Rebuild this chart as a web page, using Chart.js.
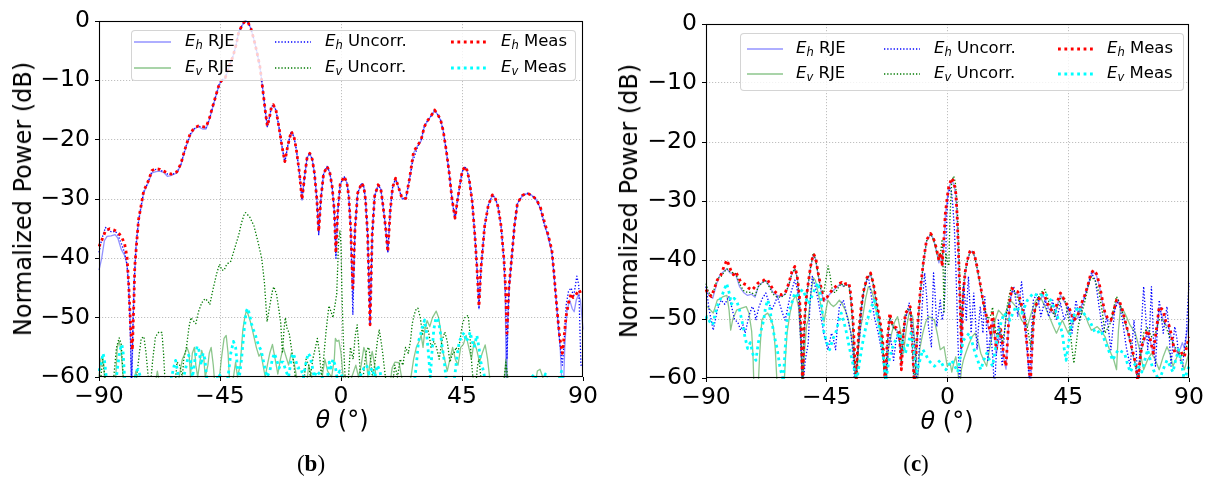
<!DOCTYPE html>
<html><head><meta charset="utf-8">
<script src="https://cdn.jsdelivr.net/npm/chart.js@4.4.1/dist/chart.umd.min.js"></script>
<style>
body{margin:0;background:#fff;width:1209px;height:485px;overflow:hidden;position:relative;font-family:"DejaVu Sans",sans-serif;color:#000;}
.panel{position:absolute;top:0;height:485px;}
.legend{position:absolute;background:rgba(255,255,255,0.8);border:1px solid rgba(204,204,204,0.85);border-radius:4px;box-sizing:border-box;z-index:5;}
.lt{position:absolute;font-size:16.5px;line-height:18px;white-space:nowrap;}
.lt sub{font-size:11.5px;font-style:italic;vertical-align:-3px;line-height:0;}
.ls{position:absolute;}
.ytitle{position:absolute;font-size:24px;white-space:nowrap;transform:translate(-50%,-50%) rotate(-90deg);z-index:6;}
.xtitle{position:absolute;font-size:24px;white-space:nowrap;transform:translate(-50%,-50%);z-index:6;}
.cap{position:absolute;font-family:"Liberation Serif","DejaVu Serif",serif;font-size:23px;white-space:nowrap;transform:translate(-50%,-50%);}
</style></head>
<body>
<div class="panel" style="left:0;width:600px;"><canvas id="cb" width="600" height="485"></canvas></div>
<div class="panel" style="left:600px;width:609px;"><canvas id="cc" width="609" height="485"></canvas></div>
<div class="ytitle" style="left:23px;top:199px;">Normalized Power (dB)</div>
<div class="ytitle" style="left:629px;top:201px;">Normalized Power (dB)</div>
<div class="xtitle" style="left:342px;top:420px;"><i>θ</i> (°)</div>
<div class="xtitle" style="left:947px;top:421px;"><i>θ</i> (°)</div>
<div class="cap" style="left:311px;top:464px;">(<b>b</b>)</div>
<div class="cap" style="left:916px;top:464px;">(<b>c</b>)</div>
<script>
// ---------- tick labels ----------
const xTickValues = [-90, -45, 0, 45, 90];
const xTickLabels = ['\u221290', '\u221245', '0', '45', '90'];
const yTickValues = [-60, -50, -40, -30, -20, -10, 0];
const yTickLabels = ['\u221260', '\u221250', '\u221240', '\u221230', '\u221220', '\u221210', '0'];
const seriesSub = ['h', 'v', 'h', 'v', 'h', 'v'];
const seriesName = ['RJE', 'RJE', 'Uncorr.', 'Uncorr.', 'Meas', 'Meas'];

// ---------- panel (b) : [theta (deg), power (dB)] ----------
const b_EhRJE = [[-90,-42],[-89,-40],[-88,-37],[-87,-36.3],[-85.5,-36.2],[-84,-36],[-83,-36.6],[-81.7,-38.5],[-80.5,-39.5],[-79.6,-41],[-79,-44],[-78.4,-50],[-77.9,-65],[-77.4,-52],[-76.9,-44],[-76.2,-38],[-75.3,-33.8],[-73.4,-29],[-71.7,-27.2],[-70.3,-25.6],[-68.8,-25.4],[-67.4,-25.3],[-66,-25.5],[-64.5,-26.2],[-63,-26],[-61,-25.6],[-59.5,-24.2],[-58.8,-23],[-57.5,-21],[-56,-19.2],[-54.5,-18.2],[-53.1,-17.8],[-51.5,-18.2],[-50.2,-18.2],[-49,-16.7],[-48.1,-15.2],[-46.5,-12.6],[-45.2,-10.6],[-44,-9.9],[-43.1,-9.7],[-41.5,-7.6],[-40.2,-6],[-39,-4],[-38.1,-2],[-37,-0.9],[-36,-0.2],[-35.3,0],[-34.5,-0.3],[-33.5,-1.3],[-32.4,-3.1],[-31.3,-5.2],[-30.2,-7.6],[-29.5,-10],[-28.8,-12.7],[-28,-15.8],[-27.4,-17.8],[-26.7,-16.5],[-25.9,-14.6],[-25.2,-14.2],[-24.2,-15],[-23.1,-17.9],[-22,-21],[-20.9,-23.8],[-19.8,-21],[-18.5,-18.7],[-17.5,-19.5],[-16.6,-21.8],[-15.5,-25.5],[-14.5,-30.2],[-13.5,-26],[-12.6,-23],[-11.6,-22.4],[-10.7,-23.3],[-9.9,-25.6],[-9,-30],[-8.3,-35.8],[-7.5,-30],[-6.5,-25.8],[-5.2,-24.6],[-4.2,-25.5],[-3.3,-28],[-2.5,-32],[-1.9,-39.5],[-1.2,-32],[-0.3,-27.5],[1.2,-26.3],[2.2,-27.3],[2.9,-29.7],[3.6,-35],[4.4,-47],[5.2,-35],[6.2,-29],[7.7,-27.4],[8.5,-28],[9.1,-30.2],[9.9,-36],[10.8,-51],[11.6,-36],[12.5,-29.5],[13.8,-27.7],[14.8,-28.3],[15.5,-30.8],[16.5,-34.5],[17.4,-39],[18.3,-32],[19.2,-28],[20.3,-26.6],[21.5,-28.3],[22.7,-30],[24.1,-30],[25.5,-26.5],[27,-22.2],[28.5,-21],[29.8,-20.2],[31,-17.8],[32,-17],[33.5,-16],[34.8,-15.1],[36,-15.8],[37,-16.7],[38,-18.5],[39.1,-21.8],[40.2,-25.5],[41.3,-30.2],[42.4,-33.4],[43.2,-30.5],[44.1,-28],[45,-25.5],[46,-24.6],[46.9,-25.2],[47.7,-26.9],[48.8,-30.5],[49.9,-37],[50.6,-42],[51.3,-48.5],[52,-42],[53.4,-34.7],[54.8,-31],[56.3,-29.4],[57.3,-29.8],[58.4,-31.4],[59.5,-34.5],[60.6,-40.5],[61.1,-47],[61.5,-65],[62,-50],[62.6,-44],[63.4,-40.3],[64.5,-34.5],[65.6,-30.8],[67.4,-29.5],[69.2,-29.1],[71,-29.4],[72.7,-30.2],[74.2,-31.6],[75.6,-34],[77,-36.5],[78.4,-39],[79.1,-42.5],[79.8,-46],[80.6,-50.5],[81.5,-55],[82.5,-65],[83.2,-55],[84,-49],[85,-47],[86,-48.5],[86.7,-49],[87.5,-47],[88.3,-46.2],[89,-47],[89.6,-50],[90,-52]];
const b_EvRJE = [[-90,-60],[-89.3,-57],[-88.8,-56.5],[-88.2,-58],[-87.5,-65],[-84,-62],[-83.2,-55],[-82.5,-54],[-81.8,-55.5],[-81,-60],[-80.3,-63],[-78,-65],[-77,-61],[-76.3,-59],[-75.5,-62],[-70,-63],[-69,-61],[-68.3,-59],[-67.5,-61],[-61,-62],[-59,-57],[-58,-56],[-57.3,-55],[-56.5,-56],[-56,-60],[-55.3,-56],[-54.5,-55],[-54,-58],[-53.3,-60],[-52.5,-57.5],[-51.8,-55.5],[-51,-57],[-50.5,-60],[-49.5,-58],[-49,-56],[-48.3,-55],[-47.5,-58],[-46.8,-62],[-45.2,-60],[-44.5,-57],[-43.5,-53.5],[-42.7,-53],[-42,-56],[-41.3,-62],[-40,-60],[-39.2,-57.5],[-38.5,-60],[-37.5,-58],[-36.5,-52],[-35.8,-50],[-35.2,-48.8],[-34.5,-49.5],[-33.5,-51],[-32.5,-53],[-31.5,-55],[-30.5,-56.5],[-29.8,-56],[-29,-58],[-28.2,-60],[-27.4,-58],[-26.5,-56],[-25.5,-54.5],[-24.5,-57],[-23.5,-59.5],[-22.5,-57],[-21.5,-55],[-20.5,-56.5],[-19.5,-58],[-18.5,-56],[-17.5,-57.5],[-16.5,-60],[-15.5,-62],[-13,-62],[-12,-58],[-11,-60],[-9,-62],[-7,-60],[-6,-57],[-5,-59],[-3.5,-60],[-2.5,-57],[-2.1,-53.5],[-1.5,-54],[-0.8,-53.8],[0,-56],[0.8,-60],[2,-62],[4,-60],[5.5,-58],[6.5,-60],[7.5,-58],[8.5,-55],[9.2,-56],[10,-60],[11,-57],[11.6,-55.7],[12.5,-58],[13,-60],[14.5,-62],[18,-62],[19,-58.5],[20,-57.5],[21.6,-57.6],[22.5,-60],[24,-62],[26,-60],[27,-57],[28,-55],[29,-54],[29.8,-53],[30.5,-55],[31.2,-52],[32,-50.5],[33,-51.5],[34,-50],[35.4,-48.9],[36.3,-50],[37,-52],[37.5,-55],[38.5,-57],[39.5,-59],[40.5,-57],[41.5,-55],[42.5,-57],[43.5,-58],[44.5,-55],[45.5,-54.5],[46.5,-53],[47.5,-55],[48.5,-57],[49.5,-54],[50.5,-55.5],[51.5,-57.5],[52.5,-56],[53.6,-54.6],[54.5,-57],[55.5,-61],[58,-63],[60.5,-62],[61.3,-57],[62,-62],[64,-64],[72,-62],[73,-59],[74,-58.7],[75,-60],[76,-62],[80,-62],[81,-60],[82,-62],[90,-63]];
const b_EhUncorr = [[-90,-39],[-89,-36.8],[-87.6,-34.8],[-86.5,-35.3],[-85,-35.6],[-84,-35.4],[-83,-36],[-81.7,-37.5],[-80.5,-39],[-79.6,-41],[-79,-45],[-78.4,-52],[-77.9,-60.5],[-77.4,-52],[-76.9,-44],[-76.2,-37.5],[-75.3,-33.6],[-73.4,-28.8],[-71.7,-27.1],[-70.3,-25.3],[-68.8,-25],[-67.4,-25.1],[-66,-25.4],[-64.5,-25.8],[-63,-25.9],[-61,-25.5],[-59.5,-24.1],[-58.8,-22.9],[-57.5,-20.9],[-56,-19],[-54.5,-18.1],[-53.1,-17.7],[-51.5,-17.9],[-50.2,-18],[-49,-16.6],[-48.1,-15.1],[-46.5,-12.5],[-45.2,-10.5],[-44,-9.8],[-43.1,-9.6],[-41.5,-7.5],[-40.2,-6],[-39,-4],[-38.1,-2],[-37,-0.9],[-36,-0.2],[-35.3,0],[-34.5,-0.3],[-33.5,-1.3],[-32.4,-3.1],[-31.3,-5.2],[-30.2,-7.6],[-29.5,-10],[-28.8,-12.7],[-28,-15.8],[-27.4,-17.8],[-26.7,-16.5],[-25.9,-14.5],[-25.2,-14.1],[-24.2,-15],[-23.1,-17.8],[-22,-21],[-20.9,-23.8],[-19.8,-21],[-18.5,-18.6],[-17.5,-19.5],[-16.6,-21.7],[-15.5,-25.5],[-14.5,-30.2],[-13.5,-26],[-12.6,-23],[-11.6,-22.3],[-10.7,-23.3],[-9.9,-25.6],[-9,-30],[-8.3,-36],[-7.5,-30],[-6.5,-25.8],[-5.2,-24.5],[-4.2,-25.5],[-3.3,-27.9],[-2.5,-32],[-1.9,-40],[-1.2,-32],[-0.3,-27.5],[1.2,-26.2],[2.2,-27.3],[2.9,-29.6],[3.6,-35],[4.4,-49.5],[5.2,-35],[6.2,-29],[7.7,-27.3],[8.5,-28],[9.1,-30.1],[9.9,-36],[10.8,-51.2],[11.6,-36],[12.5,-29.5],[13.8,-27.6],[14.8,-28.3],[15.5,-30.7],[16.5,-34.5],[17.4,-39],[18.3,-32],[19.2,-28],[20.3,-26.5],[21.5,-28.2],[22.7,-29.9],[24.1,-29.9],[25.5,-26.8],[26.5,-24],[27.3,-22.8],[28.5,-21.2],[29.8,-20],[31,-17.6],[32,-16.9],[33.5,-16],[34.8,-15],[36,-15.8],[37,-16.6],[38,-18.5],[39.1,-21.7],[40.2,-25.5],[41.3,-30.1],[42.4,-33.5],[43.2,-30.5],[44.1,-27.9],[45,-25.5],[46,-24.5],[46.9,-25.2],[47.7,-26.8],[48.8,-30.5],[49.9,-36.9],[50.6,-42],[51.3,-48.5],[52,-42],[53.4,-34.6],[54.8,-31],[56.3,-29.3],[57.3,-29.8],[58.4,-31.3],[59.5,-34.5],[60.6,-40.3],[61.2,-46],[61.7,-57],[62.4,-46],[63.4,-40.3],[64.5,-34.5],[65.6,-30.7],[67.4,-29.4],[69.2,-29],[71,-29.4],[72.7,-30.1],[74.2,-31.8],[75.6,-34.5],[77,-36],[78.4,-39],[79.1,-42],[79.8,-46],[80.6,-50],[81.3,-54],[82.3,-58],[83,-54],[83.7,-48],[84.6,-45.5],[85.6,-45],[86.5,-46.5],[87.7,-43],[88.4,-44.5],[89.2,-58],[90,-58]];
const b_EvUncorr = [[-90,-62],[-89.3,-60],[-88.6,-57],[-87.8,-60],[-86.5,-65],[-84.5,-60],[-83.5,-55],[-82.5,-53.4],[-81.7,-54.5],[-81,-60],[-80,-65],[-77,-65],[-76,-60],[-75,-56],[-74.3,-53.5],[-73.3,-53.2],[-72.5,-56],[-71.7,-60],[-71,-62],[-70,-57],[-69,-53.2],[-67.7,-52.4],[-66.6,-52.5],[-66,-56],[-65.3,-62],[-64,-65],[-61.8,-62],[-61,-57.5],[-60,-58],[-59,-60],[-58.5,-57],[-57.5,-55],[-56.5,-51.5],[-55.8,-50],[-55,-50.5],[-54,-51],[-53,-49],[-51.8,-47.5],[-50.6,-46.8],[-49.5,-47.2],[-48.8,-47.8],[-47.5,-45],[-46.2,-42.5],[-45.2,-41],[-44.3,-42],[-43.5,-42],[-42.5,-41],[-41,-40.5],[-40,-39],[-39,-37.5],[-38,-36],[-37,-34],[-36,-32.6],[-35.5,-32.3],[-34,-33],[-32.4,-34.5],[-31,-37],[-29.5,-40],[-28.5,-44],[-27.5,-50.7],[-26.5,-48],[-25.5,-45.5],[-25,-44.8],[-24,-46],[-23,-49],[-22.4,-51],[-21.8,-56],[-21.2,-52],[-20.7,-50],[-20,-52],[-19.3,-52.5],[-18.5,-55],[-17.8,-57],[-17,-60],[-16,-65],[-14,-62],[-13,-57],[-12,-58],[-11.4,-60],[-10.5,-57],[-9.5,-55],[-8.8,-53.5],[-8,-56],[-7.3,-60],[-6.5,-57],[-5.5,-52],[-4.5,-48],[-3.7,-49],[-3,-50],[-2.3,-48],[-1.6,-46],[-1.2,-41],[-0.9,-37],[-0.4,-35.3],[0,-38],[0.3,-45],[0.8,-53],[1.5,-60],[2.5,-62],[3.5,-55],[4.5,-57],[5.3,-53],[6,-51.2],[6.6,-55],[7.2,-60],[7.8,-62],[8.7,-58],[9.5,-55.5],[10.3,-55],[11,-57],[11.7,-60],[12.5,-58],[13.5,-54],[14.2,-52],[14.9,-54],[15.5,-56],[16.5,-60],[17.5,-63],[19,-62],[20,-58],[21,-60],[22,-57],[23,-58],[24,-55],[25,-56],[25.8,-54],[26.5,-51],[27.2,-49.5],[28,-48.5],[28.6,-48.4],[29.5,-50],[30.3,-53],[31,-51],[31.8,-51.5],[32.6,-52.5],[33.5,-55],[34.5,-54],[35.5,-55],[36.5,-57],[37.5,-54],[38.6,-52.4],[39.5,-54],[40.5,-57.5],[41.5,-56],[42,-56],[42.8,-55],[43.5,-56],[44.5,-53],[45.2,-51],[46,-50],[47.3,-49.6],[47.8,-52],[48.3,-56],[49,-60],[50,-62],[50.8,-58],[51.3,-57],[52,-60],[53,-63],[58,-63],[60.5,-61],[61.3,-57.5],[62,-60],[63,-64],[90,-65]];
const b_EhMeas = [[-90,-38],[-89,-37],[-87.5,-35.3],[-86,-35],[-84.5,-35.2],[-83,-35.6],[-81.7,-36.3],[-80.5,-37.5],[-79.6,-39.7],[-79,-44],[-78.2,-52],[-77.6,-55.5],[-77,-47],[-76.7,-41.4],[-75.3,-33.5],[-73.4,-28.7],[-71.7,-27],[-70.3,-25.2],[-68.8,-24.9],[-67.4,-25],[-66,-25.3],[-64.5,-25.6],[-63,-25.8],[-61,-25.4],[-59.5,-24],[-58.8,-22.8],[-57.5,-20.8],[-56,-18.9],[-54.5,-18],[-53.1,-17.7],[-51.5,-17.8],[-50.2,-17.9],[-49,-16.5],[-48.1,-15],[-46.5,-12.5],[-45.2,-10.5],[-44,-9.8],[-43.1,-9.6],[-41.5,-7.5],[-40.2,-6],[-39,-4],[-38.1,-2],[-37,-0.9],[-36,-0.2],[-35.3,0],[-34.5,-0.3],[-33.5,-1.3],[-32.4,-3.1],[-31.3,-5.2],[-30.2,-7.6],[-29.5,-10],[-28.8,-12.7],[-28,-15.8],[-27.4,-17.7],[-26.7,-16.5],[-25.9,-14.5],[-25.2,-14.1],[-24.2,-15],[-23.1,-17.8],[-22,-21],[-20.9,-23.7],[-19.8,-21],[-18.5,-18.6],[-17.5,-19.5],[-16.6,-21.7],[-15.5,-25.5],[-14.5,-30.1],[-13.5,-26],[-12.6,-23],[-11.6,-22.3],[-10.7,-23.3],[-9.9,-25.6],[-9,-30],[-8.3,-35.5],[-7.5,-30],[-6.5,-25.8],[-5.2,-24.5],[-4.2,-25.5],[-3.3,-27.9],[-2.5,-32],[-1.9,-39.1],[-1.2,-32],[-0.3,-27.5],[1.2,-26.2],[2.2,-27.3],[2.9,-29.6],[3.6,-35],[4.4,-45],[5.2,-35],[6.2,-29],[7.7,-27.3],[8.5,-28],[9.1,-30.1],[9.9,-36],[10.8,-51.2],[11.6,-36],[12.5,-29.5],[13.8,-27.6],[14.8,-28.3],[15.5,-30.7],[16.5,-34.5],[17.4,-38.9],[18.3,-32],[19.2,-28],[20.3,-26.5],[21.5,-28.2],[22.7,-29.9],[24.1,-29.9],[25.5,-26.5],[27,-22],[28.5,-21],[29.8,-20],[31,-17.8],[32,-16.9],[33.5,-16],[34.8,-15],[36,-15.8],[37,-16.6],[38,-18.5],[39.1,-21.7],[40.2,-25.5],[41.3,-30.1],[42.4,-33.2],[43.2,-30.5],[44.1,-27.9],[45,-25.5],[46,-24.5],[46.9,-25.2],[47.7,-26.8],[48.8,-30.5],[49.9,-36.9],[50.6,-42],[51.3,-48.1],[52,-42],[53.4,-34.6],[54.8,-31],[56.3,-29.3],[57.3,-29.8],[58.4,-31.3],[59.5,-34.5],[60.6,-40.3],[61.2,-45],[61.7,-52.6],[62.4,-45],[63.4,-40.3],[64.5,-34.5],[65.6,-30.7],[67.4,-29.4],[69.2,-29],[71,-29.4],[72.7,-30.1],[74.2,-31.5],[75.6,-33.8],[77,-36],[78.4,-38.6],[79.1,-42],[79.8,-45.9],[80.6,-50],[81.3,-53.2],[82.3,-56],[83,-53],[83.7,-49.8],[84.6,-47.5],[85.6,-45.9],[86.3,-46.6],[87,-46.4],[88.5,-45.3],[89.3,-46],[90,-45.9]];
const b_EvMeas = [[-90,-59],[-89.3,-58],[-88.5,-56],[-88,-57],[-87.3,-60],[-86.5,-63],[-84,-62],[-83,-58],[-82.2,-55.5],[-81.5,-54.5],[-81,-56],[-80.5,-60],[-79.5,-63],[-77,-62],[-76.2,-59],[-75.4,-58.7],[-74.6,-60],[-73.5,-62],[-64,-62],[-63,-60],[-62,-58],[-61.5,-57.2],[-60.8,-59],[-60,-62],[-58.5,-60],[-57.5,-58],[-56.7,-56.3],[-56,-57],[-55.2,-60],[-54.3,-57],[-53.5,-54.8],[-52.8,-55.5],[-52,-58],[-51.3,-56],[-50.6,-57],[-50,-60],[-49,-62],[-46.5,-61],[-45.5,-59.5],[-44.5,-60],[-43.5,-62],[-42,-60],[-41,-56],[-40,-54],[-39.2,-55],[-38.5,-58.5],[-37.8,-60],[-37,-57],[-36,-52],[-35.3,-49],[-34.7,-48.4],[-34,-49.5],[-33.3,-51],[-32.6,-52],[-31.8,-53],[-31,-54.2],[-30.3,-55],[-29.7,-55.5],[-29,-57],[-28.3,-58.5],[-27.5,-60],[-26.5,-59],[-25.5,-57],[-24.8,-56],[-24,-57],[-23,-58.5],[-22.2,-57.5],[-21.5,-57.5],[-20.5,-59],[-19.5,-60],[-18.5,-57],[-17.8,-56],[-17,-57],[-16,-58.5],[-15,-58.4],[-14,-60],[-13,-57.5],[-12.2,-56],[-11.5,-56.5],[-10.8,-58],[-10,-60],[-9,-59],[-8,-59.5],[-7,-60],[-6,-62],[-5,-60],[-4.4,-57.5],[-3.8,-58.5],[-3,-57],[-2.2,-58],[-1.5,-60],[-0.5,-59],[0.5,-60],[1.5,-62],[5,-62],[7,-60],[8.5,-58.5],[9.5,-58],[10.5,-59.5],[11.5,-58.5],[12.5,-60],[13.5,-58],[14.5,-59],[15.5,-62],[27,-62],[28,-58],[28.8,-54],[29.5,-53],[30.3,-51.5],[31.1,-50.4],[31.8,-52.5],[32.5,-56],[33.2,-60],[33.8,-56],[34.5,-52],[35.3,-50],[36,-50.3],[36.8,-52],[37.5,-54.5],[38.3,-57],[39,-60],[40,-62],[42,-61],[43,-57],[44,-54],[45,-53],[45.8,-52.5],[46.5,-54],[47.3,-53.5],[48,-52.4],[48.8,-54],[49.5,-55],[50.5,-53],[51.3,-55],[52,-57.5],[53,-59],[54,-62],[70,-62],[71,-60],[72,-59.5],[73,-61],[75,-61],[76,-59.5],[77,-61],[80,-62],[81.5,-60],[82,-59],[83,-62],[90,-63]];

// ---------- panel (c) : [theta (deg), power (dB)] ----------
const c_EhRJE = [[-90,-44.5],[-89,-46],[-87.5,-46.5],[-86,-44],[-84.8,-42.5],[-83.5,-42],[-82.2,-41.5],[-81,-42.2],[-79.8,-42.3],[-78.9,-42.5],[-77.5,-44.5],[-76,-45.5],[-74.5,-46],[-73,-45.8],[-71.7,-46.3],[-70.5,-44.5],[-69,-43.8],[-67.8,-43.5],[-66.5,-44.3],[-65,-45.5],[-63.5,-46],[-62,-46.2],[-60.5,-45.8],[-59.1,-44.2],[-58,-42.3],[-56.9,-41.5],[-56,-43],[-55.2,-46.5],[-54.5,-53],[-54,-62],[-53.5,-53],[-52.8,-47.5],[-51.9,-44],[-51,-41.2],[-50,-39.2],[-49.2,-39.8],[-48.2,-42.5],[-47.2,-45],[-46.1,-47],[-45,-46.5],[-43.9,-45.8],[-42.8,-45.3],[-41.7,-44.8],[-40.5,-44.3],[-39.5,-44],[-38.8,-44.5],[-37.8,-44.2],[-36.7,-44.2],[-36,-46.5],[-35.2,-51],[-34.6,-57],[-34.1,-62],[-33.6,-57],[-33.1,-52.5],[-32.2,-48.3],[-31.2,-45.3],[-30,-43.2],[-28.7,-42.5],[-27.6,-44.2],[-26.6,-47],[-25.5,-49.8],[-24.4,-52.8],[-23.8,-56.5],[-23.2,-62],[-22.5,-54.5],[-21.5,-49.5],[-20.8,-50.8],[-20.1,-51.5],[-19,-51.8],[-17.9,-53],[-17.2,-58],[-16.5,-53],[-15.7,-49.5],[-14.8,-48.8],[-13.9,-48.2],[-13.2,-53.5],[-12.4,-62],[-11.6,-55.5],[-10.8,-49.5],[-10,-45],[-8.9,-40.2],[-7.8,-36.8],[-6.3,-35.6],[-5.5,-36.2],[-4.6,-37.5],[-3.9,-39],[-3.2,-40.5],[-2.8,-39.5],[-2.4,-39.2],[-2,-41],[-1.4,-37.5],[-0.8,-32.5],[0,-29.3],[0.5,-27.8],[1.6,-26.5],[2.4,-27.2],[3.1,-29],[3.6,-33],[4.1,-39.5],[4.6,-47],[5.2,-56],[5.9,-46],[6.6,-42.2],[7.4,-40.2],[8.3,-38.8],[9.3,-38.5],[10.1,-39.4],[11,-41.3],[12,-43.8],[13.2,-47],[13.9,-48.8],[14.6,-50],[15.3,-51.5],[16.1,-53],[16.8,-50],[17.5,-52.5],[18.2,-56],[19,-53.5],[19.7,-51.8],[20.4,-54.5],[21.1,-57],[21.8,-58.5],[22.6,-52.5],[23.2,-47.5],[24,-45.2],[25.1,-45.5],[26.2,-45.8],[27.3,-47.3],[28.3,-49.3],[29.1,-52.5],[29.8,-56],[30.4,-59],[30.9,-62],[31.5,-56],[32.1,-50.5],[32.7,-48.2],[34.2,-47],[35.6,-46],[36.6,-46.8],[37.7,-48.2],[38.8,-48.8],[39.9,-49.2],[41,-47.5],[42.1,-46],[43.2,-46.8],[44.2,-47.6],[45.7,-48.8],[47.1,-50.4],[48.5,-49.8],[50,-47.6],[51.1,-46.3],[52.2,-44.8],[53.3,-42.8],[54.4,-42],[55.5,-42.6],[56.5,-44.2],[57.6,-46.8],[58.7,-49.3],[59.8,-50.3],[60.9,-50.5],[62,-48.8],[63,-47],[64.1,-47.3],[65.2,-48.8],[66.3,-50.8],[67.4,-52.7],[68.5,-54.8],[69.5,-56.8],[70.3,-58.5],[71,-62],[71.7,-57.5],[72.4,-55],[73.5,-53.3],[74.6,-52.2],[75.6,-53.8],[76.7,-56],[77.8,-52.3],[78.9,-48.5],[79.6,-49],[80.3,-50],[81.4,-51],[82.5,-51.5],[83.6,-53.5],[84.7,-55],[85.8,-55.8],[86.8,-55],[87.5,-54],[88.3,-55],[89,-53],[90,-50]];
const c_EvRJE = [[-90,-48],[-89.4,-47.9],[-88.3,-48.5],[-87.3,-49],[-85.8,-46.8],[-84.5,-46.5],[-83.6,-46.2],[-82.2,-46],[-81.4,-48.5],[-80.8,-51.9],[-80,-50],[-78.6,-48.5],[-77,-48.2],[-75,-47.9],[-74,-49],[-73,-52],[-72.5,-56],[-72.1,-62],[-70.6,-62],[-70,-56],[-69.2,-50.2],[-68,-49.3],[-67,-49],[-66,-49.8],[-64.9,-51.3],[-64.2,-55],[-63.4,-62],[-61,-62],[-60.3,-56],[-59.8,-52.4],[-58.7,-49],[-57.6,-46.8],[-56.5,-46],[-55.5,-48],[-54.8,-53],[-54,-62],[-53.2,-55],[-52.5,-51],[-51.9,-50.2],[-51,-46],[-50,-43],[-49.2,-43.5],[-48.2,-45.6],[-47,-48],[-46,-50.5],[-45.3,-48.5],[-44.6,-46.8],[-43.5,-47.5],[-42.5,-47.9],[-41.5,-47.5],[-40.3,-46.8],[-39.2,-47.5],[-38.1,-48.5],[-37,-50],[-36,-52.4],[-35,-56],[-34.1,-62],[-33.2,-55],[-32.4,-51.5],[-31.6,-49.6],[-30.5,-46.5],[-29.5,-44.5],[-28.4,-45],[-27.3,-46.8],[-26.2,-49.5],[-25.1,-52.4],[-24,-56],[-23,-62],[-22,-55],[-20.8,-52.4],[-19.7,-50.5],[-18.6,-49.6],[-17.5,-52],[-16.4,-55.8],[-15.3,-51.5],[-14.3,-49],[-13,-49.5],[-12.2,-54],[-11.4,-62],[-10.3,-55],[-9.2,-52.4],[-8.1,-50.5],[-7.1,-49.6],[-6,-49.8],[-4.9,-50.2],[-3.8,-52.5],[-2.7,-55.2],[-1.3,-54.7],[-0.1,-58],[1,-57.5],[1.6,-59],[2.3,-57.5],[3.1,-56.4],[3.8,-58.5],[4.5,-62],[5.2,-58.5],[5.9,-57],[7,-55.5],[8.1,-54.1],[9.2,-53],[10.3,-52.4],[11.4,-53.8],[12.4,-55.8],[13.5,-57],[14.6,-58],[15.7,-55],[16.8,-52.4],[17.9,-50],[19,-48.5],[20,-49],[21.1,-49.6],[22.2,-48.2],[23.3,-46.8],[24.4,-47.3],[25.5,-47.9],[26.6,-49],[27.6,-50.2],[28.7,-50.8],[29.8,-51.3],[30.9,-49.5],[32,-47.9],[33,-46.8],[34.1,-46.2],[35.2,-46.8],[36.3,-47.9],[37.4,-49],[38.5,-50.2],[39.5,-51.3],[40.6,-52.4],[41.7,-51.3],[42.8,-50.2],[43.9,-51.3],[45,-52.4],[46,-51.3],[47.1,-50.2],[48.2,-49.3],[49.3,-48.5],[50.4,-49],[51.5,-49.6],[52.5,-50.8],[53.6,-51.9],[54.7,-51.6],[55.8,-51.3],[57.2,-52],[58.7,-53],[59.8,-54.5],[60.9,-55.8],[62,-57],[63,-58.6],[63.7,-52],[64.5,-48],[65.5,-48.5],[66.6,-49.5],[68,-51],[70,-52.4],[71.5,-55],[73.1,-58.6],[74.5,-57],[76,-55.8],[77.5,-57],[78.9,-58.6],[80.3,-56.5],[81.8,-54.7],[83,-56],[84,-58],[85,-57],[86.1,-55.8],[87.2,-57],[88.3,-58.6],[89.2,-57],[90,-55.8]];
const c_EhUncorr = [[-90,-44.5],[-88.8,-48.5],[-87.3,-51.9],[-85.8,-48.5],[-84.4,-46.8],[-83,-47.5],[-81.5,-46.2],[-80.4,-48],[-79.3,-50.2],[-78.2,-50.5],[-77.1,-51.9],[-76.2,-51],[-75.4,-52.4],[-74,-49.5],[-72.8,-47.9],[-72,-48.5],[-71.4,-50.2],[-70.3,-48],[-69,-46.5],[-67.7,-45.6],[-66.7,-47],[-65.6,-48.5],[-64.5,-47.5],[-63.4,-46.2],[-62.5,-47.5],[-61.5,-49],[-60.5,-50.2],[-59.5,-48],[-58.4,-45.6],[-56.9,-43.4],[-56.2,-44.5],[-55.5,-46.8],[-54.8,-53],[-54,-62],[-53,-57],[-51.9,-54.1],[-51.2,-47],[-50.4,-42.8],[-49.3,-44.5],[-48.2,-46.8],[-47.2,-49.5],[-46.1,-52.4],[-44.6,-55.2],[-43.2,-52.4],[-42.5,-53.5],[-41.7,-55.2],[-41,-51],[-40.3,-47.9],[-38.8,-46.8],[-37.4,-49.6],[-36,-52.4],[-35.2,-56],[-34.5,-62],[-33.5,-56],[-32.6,-52.4],[-31.9,-48],[-31.2,-45.1],[-29.5,-42.8],[-28.4,-46],[-27.3,-49.6],[-25.8,-52.4],[-24.4,-55.8],[-23.7,-58],[-23,-62],[-22.2,-56],[-21.5,-52.4],[-20.8,-54.5],[-20.1,-57],[-19.3,-54],[-18.6,-52.4],[-17.9,-54],[-17.2,-55.8],[-16.4,-53],[-15.7,-50.2],[-14.3,-47.3],[-13.5,-49.5],[-12.8,-51.9],[-12.1,-55],[-11.4,-62],[-10.7,-56],[-10,-52.4],[-9.2,-46],[-8.5,-42.2],[-7.8,-46],[-7.1,-51.3],[-6,-54.7],[-5.6,-48],[-5.2,-42.2],[-4.6,-46],[-4,-51.3],[-3.3,-49],[-2.7,-46.8],[-2,-50.2],[-1.5,-49],[-1.1,-46.8],[-0.7,-40],[-0.3,-32.6],[0.3,-29],[0.9,-27.8],[1.5,-28.5],[2,-30.9],[2.6,-35],[3.1,-41.1],[3.5,-47],[3.8,-52.4],[4.5,-62],[5.2,-52.4],[5.9,-43.9],[6.5,-46.5],[7,-50.2],[7.4,-46],[7.8,-42.8],[8.3,-47],[8.8,-52.4],[9.3,-49],[9.8,-45.6],[10.4,-50],[11,-55.2],[11.6,-51],[12.2,-47.9],[12.7,-50],[13.2,-52.4],[13.9,-46.2],[14.5,-51],[15,-57],[15.6,-54],[16.1,-52.4],[16.8,-56],[17.5,-62],[18.3,-55],[19,-50.2],[19.7,-54],[20.4,-58],[21.1,-53],[21.8,-49.6],[23.3,-46.8],[24.7,-44.5],[25.5,-47],[26.2,-49.6],[27,-46],[27.6,-43.7],[28.3,-47],[29,-50.2],[29.8,-55],[30.5,-62],[31.3,-52],[32,-46.8],[33.4,-45.6],[34.8,-49.6],[36.3,-46.8],[37.7,-49.6],[39.2,-46.8],[40.6,-50.2],[42.1,-47.3],[43.5,-50.2],[45,-47.9],[46.4,-52.4],[47.9,-46.8],[49.3,-50.2],[50.7,-46.8],[52.2,-44.5],[53.6,-42.2],[55.1,-43.4],[56.5,-47.9],[58,-52.4],[59.4,-49.6],[60.9,-55.2],[62.3,-48.5],[63.7,-46.8],[65.2,-50.2],[66.6,-54.7],[68.1,-58],[69.5,-50.2],[70.3,-55],[71,-62],[71.7,-55],[72.4,-50.2],[73.1,-44.5],[73.8,-49],[74.6,-55.2],[75.3,-52],[76,-44.5],[76.8,-54],[77.5,-58],[78.2,-52],[78.9,-46.8],[79.6,-49],[80.4,-52.4],[81.1,-50],[81.8,-47.9],[82.5,-52],[83.3,-58],[84,-54],[84.7,-51.3],[85.4,-53],[86.1,-55.8],[86.8,-57],[87.6,-58],[88.3,-55],[89,-52.4],[89.5,-48],[90,-43.9]];
const c_EvUncorr = [[-90,-44],[-89,-45.5],[-88,-46],[-87,-45],[-85.8,-43.2],[-84.4,-42.8],[-83.2,-42],[-82.2,-41.5],[-81,-42],[-79.8,-42.2],[-78.9,-42.3],[-77.5,-44],[-76,-45.2],[-74.5,-45.5],[-73,-45.5],[-71.7,-46],[-70.5,-44.5],[-69,-43.8],[-67.8,-43.5],[-66.5,-44.5],[-65,-45.8],[-63.5,-46.3],[-62,-46.3],[-60.5,-45.8],[-59.1,-44.2],[-58,-42.3],[-56.9,-41.5],[-56,-43],[-55.2,-46.5],[-54.5,-53],[-54,-62],[-53.5,-53],[-52.8,-47.5],[-51.9,-44],[-51,-41.2],[-50,-38.8],[-49.2,-39.8],[-48.2,-42.5],[-47.2,-45],[-46.1,-45.5],[-45.2,-43],[-44.5,-41],[-43.8,-42.5],[-42.8,-45.5],[-41.7,-45.5],[-40.5,-44.5],[-39.5,-44],[-38.8,-44.5],[-37.8,-44.2],[-36.7,-44.5],[-36,-47],[-35.2,-52],[-34.6,-58],[-34.1,-62],[-33.6,-57],[-33.1,-52.5],[-32.2,-48.3],[-31.2,-45.3],[-30,-43.2],[-28.7,-42.2],[-27.6,-44.2],[-26.6,-47],[-25.5,-49.8],[-24.4,-52.8],[-23.8,-56.5],[-23.2,-62],[-22.5,-54.5],[-21.5,-49.5],[-20.8,-50.8],[-20.1,-51.5],[-19,-52],[-17.9,-53.5],[-17.2,-57],[-16.5,-52],[-15.7,-49],[-14.8,-48.5],[-13.9,-47.9],[-13.2,-53],[-12.4,-62],[-11.6,-55.5],[-10.8,-49.5],[-10,-45],[-8.9,-40.2],[-7.8,-36.8],[-6.3,-35.6],[-5.5,-36.2],[-4.6,-37.5],[-3.9,-39],[-3.2,-40],[-2.5,-38.5],[-2,-36.5],[-1.6,-42],[-1.3,-49],[-0.9,-42],[-0.6,-38.8],[-0.2,-40],[0.5,-41],[0.9,-33],[1.6,-26.5],[2.3,-25.8],[2.9,-26.8],[3.5,-29.8],[4,-35],[4.5,-41],[5,-52],[5.5,-48],[6.2,-43],[7.4,-40.2],[8.3,-38.8],[9.3,-38.5],[10.1,-39.4],[11,-41.3],[12,-43.8],[13.2,-47],[14,-48.5],[15,-50],[16,-49.5],[16.8,-48],[17.5,-51],[18.5,-53],[19.5,-51.5],[20.5,-54],[21.3,-52],[22.2,-48],[23.2,-45.5],[24,-44.5],[25.1,-45.5],[26.2,-46.5],[27.5,-48],[29,-49.6],[30,-52],[31,-54.7],[32,-50],[33.4,-46.8],[34.8,-45.5],[36.3,-45],[37.7,-47],[39,-48.5],[39.9,-49.6],[41,-48],[42.2,-46.5],[43.5,-46.2],[44.5,-48.5],[45.5,-51],[46.4,-55],[47.1,-57.5],[47.8,-55],[48.8,-51],[50,-49],[51.2,-47],[52.4,-44.5],[53.6,-42.8],[55,-43.5],[56.5,-45.6],[57.6,-48.5],[58.7,-52.4],[59.8,-51.5],[60.9,-50.5],[62,-48],[63,-46.2],[64.3,-47.5],[66,-50.2],[67.5,-52.5],[69,-55.8],[70,-57.5],[71,-61],[72,-56],[73.1,-52.4],[74.5,-51.5],[76,-53],[77.5,-52.4],[79,-50],[80.4,-50.2],[81.5,-51.5],[82.8,-53],[84.7,-54.7],[86,-55.5],[87.6,-56.4],[88.8,-55],[90,-53.6]];
const c_EhMeas = [[-90,-45],[-89.4,-45.6],[-88,-46.2],[-87,-45],[-85.8,-43.4],[-84.4,-42.5],[-83.2,-41],[-82.2,-40],[-81.5,-40.8],[-80.8,-41.7],[-79.8,-42.5],[-78.9,-42],[-78,-42.8],[-77.1,-43.7],[-76,-44],[-75,-44.2],[-74,-44.8],[-72.8,-45.1],[-71.7,-44.5],[-70.6,-43.9],[-69,-43.6],[-67.8,-43.2],[-67,-43.4],[-66,-44.2],[-64.9,-45.1],[-63.5,-45.7],[-62,-45.9],[-60.5,-45.6],[-59.1,-43.9],[-58,-42],[-56.9,-41.1],[-56,-42.8],[-55.2,-46],[-54.5,-52],[-54,-62],[-53.5,-52],[-52.8,-47],[-51.9,-43.9],[-51,-41],[-50,-39],[-49.2,-39.5],[-48.2,-42.2],[-47.2,-44.5],[-46.1,-46.8],[-45,-46.4],[-43.9,-45.6],[-42.8,-45],[-41.7,-44.5],[-40.5,-44],[-39.5,-43.8],[-38.8,-44.2],[-37.8,-44],[-36.7,-43.9],[-36,-46],[-35.2,-50.2],[-34.6,-56],[-34.1,-62],[-33.6,-56],[-33.1,-52.4],[-32.2,-48],[-31.2,-45.1],[-30,-43],[-28.7,-42.2],[-27.6,-44],[-26.6,-46.8],[-25.5,-49.5],[-24.4,-52.4],[-23.8,-56],[-23.2,-61],[-22.5,-54],[-21.5,-49],[-20.8,-50.5],[-20.1,-51.3],[-19,-51.5],[-17.9,-52.4],[-17.2,-58.6],[-16.5,-53],[-15.7,-49],[-14.8,-48.5],[-13.9,-47.9],[-13.2,-53],[-12.4,-61],[-11.6,-55],[-10.8,-49],[-10,-44.5],[-8.9,-40],[-7.8,-36.6],[-6.3,-35.5],[-5.5,-36],[-4.6,-37.2],[-3.9,-38.6],[-3.2,-40],[-2.8,-38.8],[-2.4,-38.8],[-2,-41.1],[-1.4,-37],[-0.8,-32.1],[0,-29],[0.5,-27.5],[1.6,-26.1],[2.4,-26.8],[3.1,-28.7],[3.6,-32.5],[4.1,-38.8],[4.6,-46],[5.2,-54.7],[5.9,-45.6],[6.6,-42],[7.4,-40],[8.3,-38.6],[9.3,-38.3],[10.1,-39.2],[11,-41.1],[12,-43.5],[13.2,-46.8],[13.9,-48.5],[14.6,-49.6],[15.3,-51],[16.1,-52.4],[16.8,-49],[17.5,-52],[18.2,-55.2],[19,-53],[19.7,-51.3],[20.4,-54],[21.1,-56.5],[21.8,-58],[22.6,-52],[23.2,-47],[24,-44.8],[25.1,-45.2],[26.2,-45.4],[27.3,-47],[28.3,-49],[29.1,-52],[29.8,-55.2],[30.4,-58],[30.9,-61],[31.5,-55],[32.1,-50],[32.7,-47.9],[34.2,-46.5],[35.6,-45.6],[36.6,-46.5],[37.7,-47.9],[38.8,-48.5],[39.9,-49],[41,-47],[42.1,-45.6],[43.2,-46.5],[44.2,-47.3],[45.7,-48.5],[47.1,-50.2],[48.5,-49.5],[50,-47.3],[51.1,-46],[52.2,-44.5],[53.3,-42.5],[54.4,-41.7],[55.5,-42.3],[56.5,-43.9],[57.6,-46.5],[58.7,-49],[59.8,-50],[60.9,-50.2],[62,-48.5],[63,-46.8],[64.1,-47],[65.2,-48.5],[66.3,-50.5],[67.4,-52.4],[68.5,-54.5],[69.5,-56.4],[70.3,-58],[71,-61],[71.7,-57],[72.4,-54.7],[73.5,-53],[74.6,-51.9],[75.6,-53.5],[76.7,-55.8],[77.8,-52],[78.9,-47.9],[79.6,-48.2],[80.3,-48.5],[81.4,-50.5],[82.5,-51],[83.6,-53],[84.7,-55.8],[85.8,-55.5],[86.8,-55.2],[87.5,-56],[88.3,-56.4],[89,-55],[90,-53]];
const c_EvMeas = [[-90,-50],[-89.7,-49.6],[-88.5,-50.5],[-87.5,-51],[-86.5,-49],[-85.5,-47.5],[-84,-46],[-83.2,-45],[-82.3,-44],[-81.4,-45.5],[-80.5,-47.5],[-79.5,-46.5],[-78.5,-47],[-77.5,-48.5],[-76.5,-50.5],[-75.5,-53],[-74.5,-55],[-73.5,-54],[-72.5,-56],[-71.4,-57],[-70.5,-54],[-69.5,-52],[-68.5,-50.2],[-67.8,-48],[-67,-46.8],[-66.3,-48],[-65.6,-50.2],[-64.5,-53],[-63.5,-55],[-62.5,-58],[-61.2,-60.5],[-60.5,-55],[-59.8,-50.2],[-58.5,-48],[-57.5,-46.5],[-56.9,-45.6],[-56,-46],[-55,-45.5],[-54,-45],[-53,-46],[-52,-47.5],[-51.1,-46.8],[-50,-45.5],[-49,-44.5],[-48.2,-43.9],[-47.3,-46],[-46.5,-49.5],[-46,-52.4],[-45,-54],[-43.9,-55.2],[-42.8,-53.5],[-41.7,-52.4],[-40.6,-50.5],[-39.6,-49],[-38.6,-50.5],[-37.6,-52.4],[-36.5,-55],[-35.3,-57.5],[-34.5,-59],[-33.8,-60.5],[-32.7,-57],[-31.6,-54],[-30.5,-51.5],[-29.5,-49.6],[-28.4,-48],[-27.3,-46.8],[-26.2,-49.5],[-25.1,-52.4],[-24,-56],[-23,-60.5],[-22,-57.5],[-20.8,-55.2],[-19.3,-53.5],[-17.9,-52.4],[-16.8,-54],[-15.7,-55.8],[-14.6,-54],[-13.6,-52.4],[-12.5,-55.5],[-11.4,-59],[-10.3,-57],[-9.2,-55.2],[-8.1,-56],[-7.1,-57],[-6,-57.5],[-4.9,-58],[-3.8,-57.5],[-2.7,-57],[-1.6,-58],[-0.6,-58.6],[0.5,-57.8],[1.6,-57],[2.7,-58],[3.8,-59],[4.9,-56],[5.9,-53.6],[7,-53],[8.1,-52.4],[9.2,-54],[10.3,-55.8],[11.4,-57.2],[12.4,-58.6],[13.5,-57],[14.6,-55.8],[15.7,-57],[16.8,-58],[17.9,-55],[19,-52.4],[20,-50.5],[21.1,-49],[22.2,-49.6],[23.3,-50.2],[24.4,-49],[25.5,-47.9],[26.6,-48.5],[27.6,-49],[28.7,-48],[29.8,-46.8],[30.9,-46.2],[32,-45.6],[33,-45.9],[34.1,-46.2],[35.2,-45.9],[36.3,-45.6],[37.4,-46.2],[38.5,-46.8],[39.5,-47.9],[40.6,-49],[41.7,-50.7],[42.8,-52.4],[43.5,-55],[44.2,-57],[45.3,-53.5],[46.4,-50.2],[47.5,-49],[48.6,-47.9],[49.7,-48.5],[50.7,-49],[51.8,-49.6],[52.9,-50.2],[54,-51.3],[55.1,-52.4],[56.2,-52.2],[57.2,-51.9],[58.3,-53.3],[59.4,-54.7],[60.5,-55.8],[61.6,-57],[62.6,-56],[63.7,-55.2],[64.8,-55.5],[66,-55.8],[67,-57.5],[68.1,-59],[69.2,-58],[70.3,-57.5],[71.4,-58.3],[72.4,-59],[73.5,-57],[74.6,-55.2],[75.6,-57],[76.7,-58.6],[77.8,-59.5],[78.9,-60.5],[80.4,-58.5],[81.8,-57],[83,-58],[84,-59],[85,-57],[86.1,-55.2],[87.2,-57.5],[88.3,-60.5],[89.2,-59],[90,-58]];

// ---------- styles ----------
const styles = [
  {color:'rgba(40,40,255,0.5)', width:1.3, dash:[]},
  {color:'rgba(0,128,0,0.45)', width:1.3, dash:[]},
  {color:'#0000ff', width:1.3, dash:[1.3,1.9]},
  {color:'#007a00', width:1.3, dash:[1.3,1.9]},
  {color:'#ff0000', width:2.8, dash:[2.8,3.6]},
  {color:'#00ffff', width:2.8, dash:[2.8,3.6]}
];

const framePlugin = {
  id:'frame',
  afterDatasetsDraw(chart){
    const a = chart.chartArea, c = chart.ctx;
    c.save(); c.strokeStyle = '#000'; c.lineWidth = 1.1;
    c.strokeRect(Math.round(a.left)+0.5, Math.round(a.top)+0.5, Math.round(a.right-a.left)-1, Math.round(a.bottom-a.top)-1);
    c.restore();
  }
};

function makeChart(id, seriesList, area, W){
  const datasets = seriesList.map((s, i) => ({
    label: 'E' + seriesSub[i] + ' ' + seriesName[i],
    data: s.map(p => ({x: p[0], y: p[1]})),
    borderColor: styles[i].color,
    borderWidth: styles[i].width,
    borderDash: styles[i].dash,
    borderCapStyle: 'butt',
    borderJoinStyle: 'round',
    pointRadius: 0,
    fill: false,
    tension: 0,
    order: 6 - i,
    clip: 1
  }));
  const hideEdge = (c) => {
    const v = c.tick ? c.tick.value : null;
    if (c.scale.axis === 'x') return (v === -90 || v === 90) ? 'rgba(0,0,0,0)' : '#b0b0b0';
    return (v === -60 || v === 0) ? 'rgba(0,0,0,0)' : '#b0b0b0';
  };
  return new Chart(document.getElementById(id), {
    type: 'line',
    data: {datasets},
    options: {
      animation: false, responsive: false, devicePixelRatio: 1,
      layout: {padding: {left: 0, top: area.top, right: W - area.right, bottom: 0}},
      plugins: {legend: {display: false}, tooltip: {enabled: false}, title: {display: false}},
      scales: {
        x: {
          type: 'linear', min: -90, max: 90,
          afterBuildTicks(s){ s.ticks = xTickValues.map(v => ({value: v})); },
          afterFit(s){ s.height = 485 - area.bottom; },
          ticks: {color: '#000', font: {family: 'DejaVu Sans', size: 23.5}, padding: 2, maxRotation: 0, autoSkip: false,
                  callback: (v) => xTickLabels[xTickValues.indexOf(v)]},
          grid: {color: hideEdge, lineWidth: 0.8, tickLength: 4, tickColor: '#000', tickWidth: 1},
          border: {display: false, dash: [1.2, 1.8]}
        },
        y: {
          type: 'linear', min: -60, max: 0,
          afterBuildTicks(s){ s.ticks = yTickValues.map(v => ({value: v})); },
          afterFit(s){ s.width = area.left; },
          ticks: {color: '#000', font: {family: 'DejaVu Sans', size: 23.5}, padding: 5, autoSkip: false,
                  callback: (v) => yTickLabels[yTickValues.indexOf(v)]},
          grid: {color: hideEdge, lineWidth: 0.8, tickLength: 4, tickColor: '#000', tickWidth: 1},
          border: {display: false, dash: [1.2, 1.8]}
        }
      }
    },
    plugins: [framePlugin]
  });
}

makeChart('cb', [b_EhRJE, b_EvRJE, b_EhUncorr, b_EvUncorr, b_EhMeas, b_EvMeas], {left: 99, top: 21, right: 585, bottom: 377}, 600);
makeChart('cc', [c_EhRJE, c_EvRJE, c_EhUncorr, c_EvUncorr, c_EhMeas, c_EvMeas], {left: 106, top: 24, right: 589, bottom: 378}, 609);

// ---------- legends (HTML) ----------
function buildLegend(box, rows, samples, textX){
  const lg = document.createElement('div');
  lg.className = 'legend';
  lg.style.left = box.x + 'px'; lg.style.top = box.y + 'px';
  lg.style.width = box.w + 'px'; lg.style.height = box.h + 'px';
  document.body.appendChild(lg);
  for (let i = 0; i < 6; i++){
    const col = Math.floor(i / 2), row = i % 2;
    const st = styles[i];
    const x1 = samples[col][0], x2 = samples[col][1];
    const svg = document.createElementNS('http://www.w3.org/2000/svg', 'svg');
    svg.setAttribute('width', x2 - x1); svg.setAttribute('height', 8);
    svg.setAttribute('class', 'ls');
    svg.style.left = (x1 - box.x) + 'px'; svg.style.top = (rows[row] - 4 - box.y) + 'px';
    const ln = document.createElementNS('http://www.w3.org/2000/svg', 'line');
    ln.setAttribute('x1', 0); ln.setAttribute('x2', x2 - x1); ln.setAttribute('y1', 4); ln.setAttribute('y2', 4);
    ln.setAttribute('stroke', st.color); ln.setAttribute('stroke-width', st.width);
    if (st.dash.length) ln.setAttribute('stroke-dasharray', st.dash.join(' '));
    svg.appendChild(ln); lg.appendChild(svg);
    const t = document.createElement('div');
    t.className = 'lt';
    t.style.left = (textX[col] - box.x) + 'px'; t.style.top = (rows[row] - 10 - box.y) + 'px';
    t.innerHTML = '<i>E</i><sub>' + seriesSub[i] + '</sub> ' + seriesName[i];
    lg.appendChild(t);
  }
}
buildLegend({x:131, y:30, w:445, h:51}, [41, 67], [[133,170],[274,310],[450,485]], [184,324,500]);
buildLegend({x:740, y:33, w:444, h:58}, [48, 73], [[746,782],[883,919],[1057,1093]], [795,933,1106]);
</script>
</body></html>
